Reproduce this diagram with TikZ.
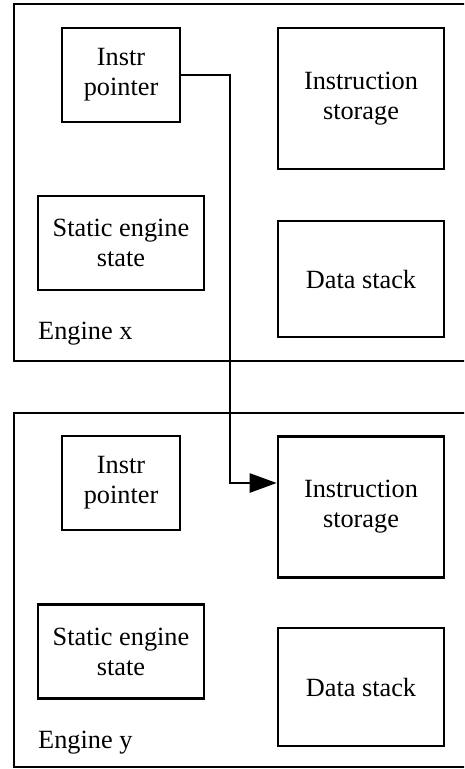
\documentclass[tikz,border=0pt]{standalone}
\usepackage{fontspec}
\setmainfont{Liberation Serif}
\usetikzlibrary{arrows.meta}

\tikzset{
  unit/.style={draw, line width=2.6pt, align=center, inner sep=0pt,
    font=\fontsize{26.3}{30}\selectfont},
  engine/.style={draw, line width=2.6pt},
  enginelabel/.style={anchor=base west, inner sep=0pt,
    font=\fontsize{26.3}{30}\selectfont},
}

\begin{document}
\begin{tikzpicture}[x=1pt, y=-1pt]
        \useasboundingbox (0,0) rectangle (464,769);
        \clip (0,0) rectangle (464,769);
        %\tikzstyle{every node}=[draw];
        % engine x
        \draw[engine] (14,4) rectangle (480,361);
        \node[unit, minimum width=118pt, minimum height=94pt] (ipx) at (121,75) {Instr\\pointer};
        \node[unit, minimum width=166pt, minimum height=141pt] (isx) at (361,98.5) {Instruction\\storage};
        \node[unit, minimum width=166pt, minimum height=94pt] (sesx) at (121,243) {Static engine\\state};
        \node[unit, minimum width=166pt, minimum height=116pt] (dsx) at (361,279) {Data stack};
        \node[enginelabel] (labx) at (38,339) {Engine x};
        % engine y
        \draw[engine] (14,413) rectangle (480,767);
        \node[unit, minimum width=118pt, minimum height=94pt] (ipy) at (121,483) {Instr\\pointer};
        \node[unit, minimum width=166pt, minimum height=141pt] (isy) at (361,507) {Instruction\\storage};
        \node[unit, minimum width=166pt, minimum height=94pt] (sesy) at (121,651.5) {Static engine\\state};
        \node[unit, minimum width=166pt, minimum height=118pt] (dsy) at (361,687) {Data stack};
        \node[enginelabel] (laby) at (38,748) {Engine y};
        % pointer of x into storage of y
        \coordinate (turn) at (230,0);
        \draw[line width=2.6pt, -{Triangle[length=27pt, width=19pt]}]
          (ipx.east) -| (turn |- ipy) -- (isy.west |- ipy);
      \end{tikzpicture}
\end{document}
